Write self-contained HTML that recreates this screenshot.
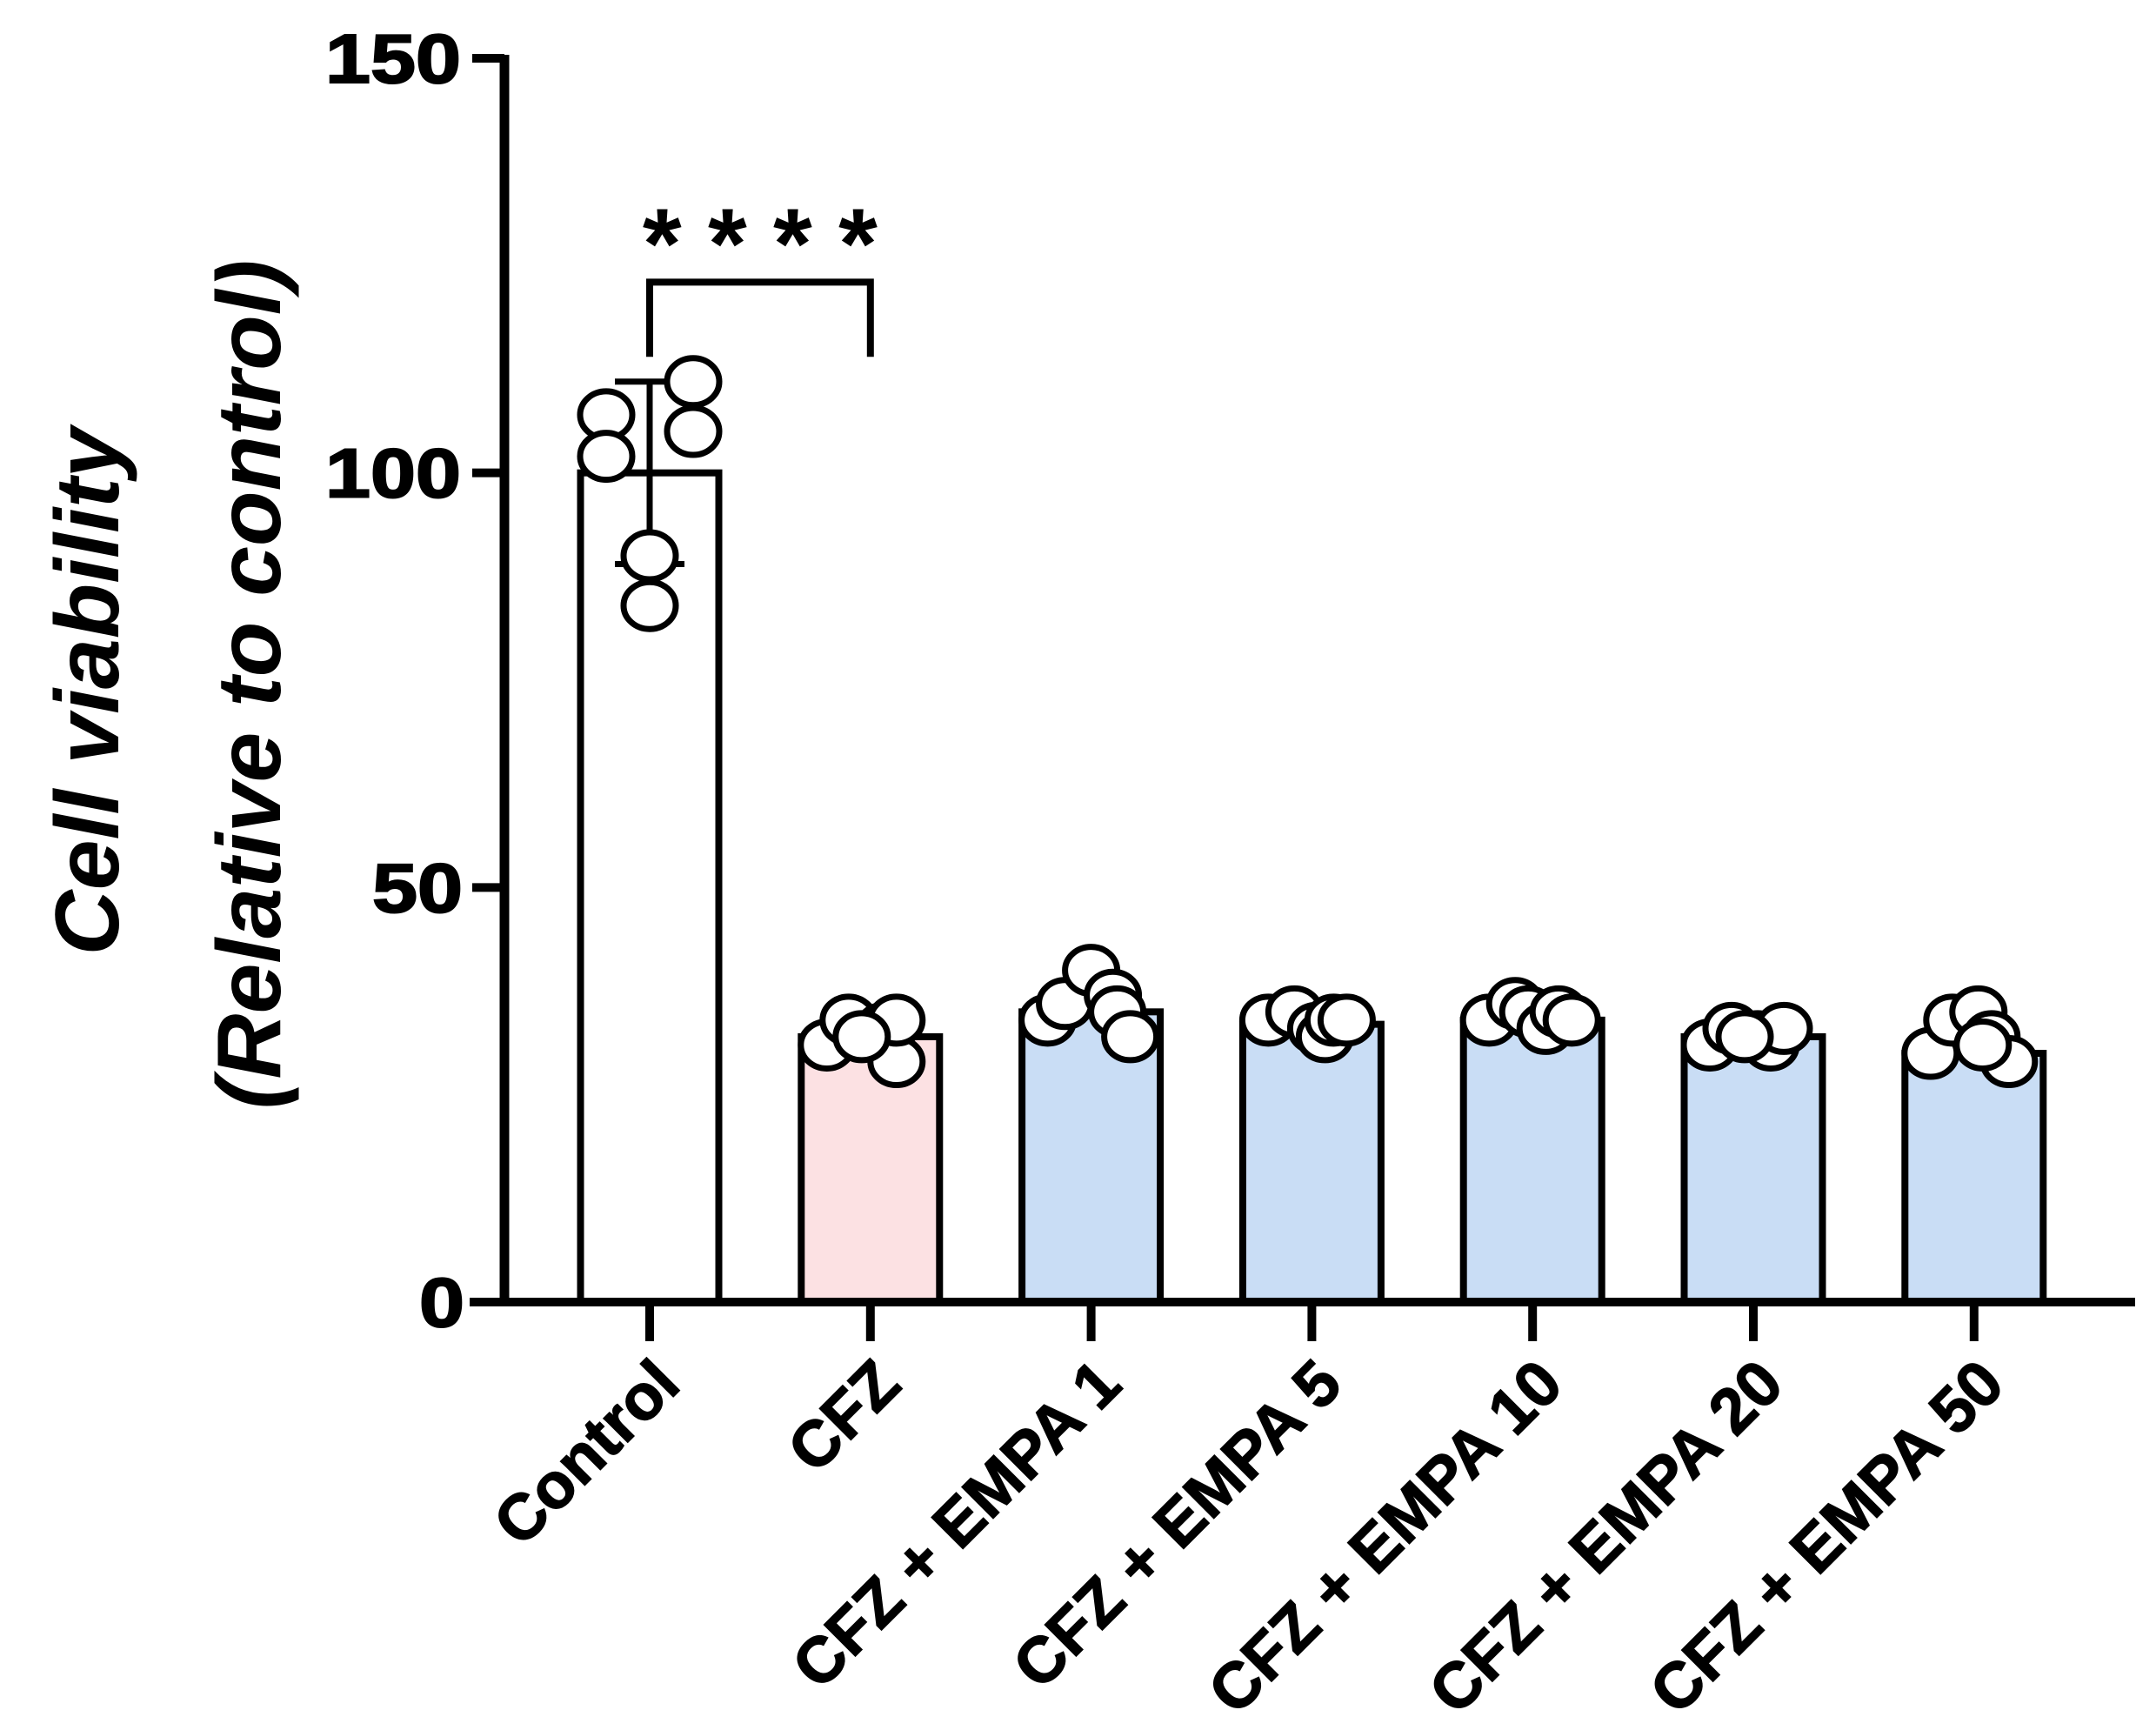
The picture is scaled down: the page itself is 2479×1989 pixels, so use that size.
<!DOCTYPE html>
<html><head><meta charset="utf-8"><style>
html,body{margin:0;padding:0;background:#fff}
svg{display:block}
text{font-family:"Liberation Sans",Arial,sans-serif;font-weight:bold;fill:#000}
</style></head><body>
<svg id="chart" width="2479" height="1989" viewBox="0 0 2479 1989" xmlns="http://www.w3.org/2000/svg">
<g id="g"></g>
</svg>
<script>
const categories = ["Control","CFZ","CFZ + EMPA 1","CFZ + EMPA 5","CFZ + EMPA 10","CFZ + EMPA 20","CFZ + EMPA 50"];
const means = [100, 32, 35, 33.5, 34, 32, 30];
const sdUpper = [111, null, null, null, null, null, null];
const sdLower = [89, null, null, null, null, null, null];
const points = [
  [107, 102, 111, 105, 90, 84],
  [31, 34, 33, 29, 34, 32],
  [34, 36, 40, 37, 35, 32],
  [34, 35, 33, 32, 34, 34],
  [34, 36, 35, 33, 35, 34],
  [31, 33, 32, 31, 33, 32],
  [30, 34, 35, 32, 29, 31]
];
const pointOffsets = [
  [-1, -1, 1, 1, 0, 0],
  [-1, -0.5, 0.3, 0.6, 0.6, -0.2],
  [-1, -0.6, 0, 0.5, 0.6, 0.9],
  [-1, -0.4, 0.1, 0.3, 0.5, 0.8],
  [-1, -0.4, -0.1, 0.3, 0.6, 0.9],
  [-1, -0.5, 0.1, 0.4, 0.7, -0.2],
  [-1, -0.5, 0.1, 0.4, 0.8, 0.2]
];
const fills = ["#ffffff","#fce1e3","#c9ddf5","#c9ddf5","#c9ddf5","#c9ddf5","#c9ddf5"];
const yTicks = [0, 50, 100, 150];

const NS = "http://www.w3.org/2000/svg";
const g = document.getElementById("g");
const y0 = 1497, yTop = 67, yMax = 150;
const yScale = v => y0 - (v / yMax) * (y0 - yTop);
const x0 = 747, step = 253.8;
const xScale = i => x0 + i * step;
const barW = 159, ptDx = 50, r = 27;

function el(tag, attrs, parent) {
  const e = document.createElementNS(NS, tag);
  for (const k in attrs) e.setAttribute(k, attrs[k]);
  (parent || g).appendChild(e);
  return e;
}

categories.forEach((c, i) => {
  const cx = xScale(i);
  const b = el("rect", {x: cx - barW/2, y: yScale(means[i]), width: barW, height: y0 - yScale(means[i]), fill: fills[i], stroke: "#000", "stroke-width": 8});
  
  
});

categories.forEach((c, i) => {
  if (sdUpper[i] == null) return;
  const cx = xScale(i);
  const eg = el("g", {stroke: "#000", "stroke-width": 7, fill: "none"});
  
  
  el("line", {x1: cx, x2: cx, y1: yScale(sdUpper[i]), y2: yScale(sdLower[i])}, eg);
  el("line", {x1: cx - 40, x2: cx + 40, y1: yScale(sdUpper[i]), y2: yScale(sdUpper[i])}, eg);
  el("line", {x1: cx - 40, x2: cx + 40, y1: yScale(sdLower[i]), y2: yScale(sdLower[i])}, eg);
});

categories.forEach((c, i) => {
  points[i].forEach((v, j) => {
    const p = el("ellipse", {cx: xScale(i) + pointOffsets[i][j] * ptDx, cy: yScale(v), rx: r + 3, ry: r, fill: "#fff", stroke: "#000", "stroke-width": 7});
    
    
  });
});

const ya = el("g", {});


el("line", {x1: 580, x2: 580, y1: yTop - 4, y2: y0 + 4, stroke: "#000", "stroke-width": 11}, ya);
yTicks.forEach(t => {
  el("line", {x1: 543, x2: 580, y1: yScale(t), y2: yScale(t), stroke: "#000", "stroke-width": 10}, ya);
  const s = String(t);
  const tx = el("text", {x: 536 - s.length * 54, y: yScale(t) + 28, "font-size": 80, textLength: s.length * 52, lengthAdjust: "spacingAndGlyphs", "font-weight": 900, stroke: "#000", "stroke-width": 2}, ya);
  tx.textContent = s;
  
  
});

const xa = el("g", {});


el("line", {x1: 540, x2: 2455, y1: y0, y2: y0, stroke: "#000", "stroke-width": 10}, xa);
categories.forEach((c, i) => {
  const cx = xScale(i);
  el("line", {x1: cx, x2: cx, y1: y0, y2: y0 + 45, stroke: "#000", "stroke-width": 10}, xa);
  const tx = el("text", {x: 0, y: 0, "text-anchor": "end", "font-size": 74, stroke: "#000", "stroke-width": 1.5, transform: `translate(${cx + 38},${y0 + 98}) rotate(-45)`}, xa);
  tx.textContent = c;
  
  
});

const sg = el("g", {});


el("path", {d: `M${xScale(0)},${yScale(114)} V${yScale(123)} H${xScale(1)} V${yScale(114)}`, fill: "none", stroke: "#000", "stroke-width": 8}, sg);
const st = el("text", {x: (xScale(0) + xScale(1)) / 2, y: 320, "text-anchor": "middle", "font-size": 115, textLength: 270, lengthAdjust: "spacing"}, sg);
st.textContent = "****";

const t1 = el("text", {x: 0, y: 0, "text-anchor": "middle", "font-size": 104, "font-style": "italic", transform: "translate(136,795) rotate(-90)"});
t1.textContent = "Cell viability";


const t2 = el("text", {x: 0, y: 0, "text-anchor": "middle", "font-size": 104, "font-style": "italic", transform: "translate(322,787) rotate(-90)"});
t2.textContent = "(Relative to control)";


</script>
</body></html>
